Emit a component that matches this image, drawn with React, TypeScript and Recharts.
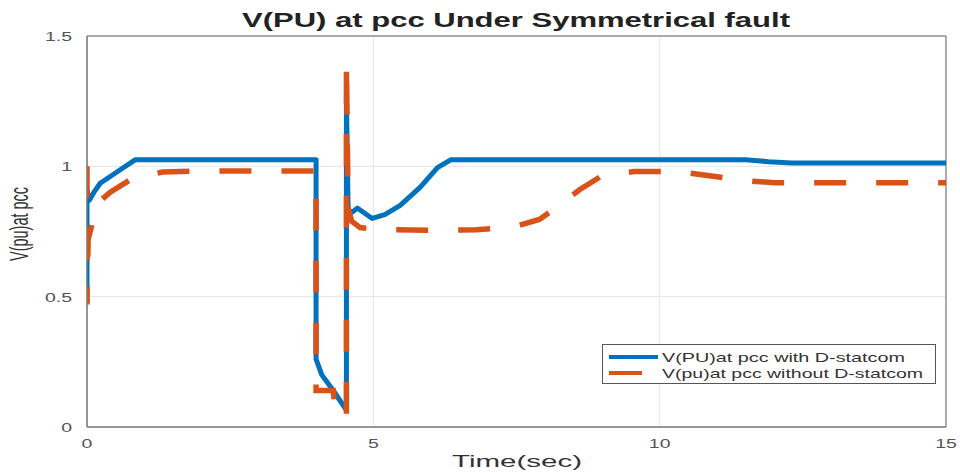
import React from 'react';
import { LineChart, Line, XAxis, YAxis, CartesianGrid, Legend, ReferenceArea, Label } from 'recharts';

const titleText = 'V(PU) at pcc Under Symmetrical fault';
const xLabelText = 'Time(sec)';
const yLabelText = 'V(pu)at pcc';
const seriesNames = ['V(PU)at pcc with D-statcom', 'V(pu)at pcc without D-statcom'];
const seriesColors = ['#0072BD', '#D95319'];

const xTicks = [0, 5, 10, 15];
const yTicks = [0, 0.5, 1, 1.5];

// Series 1: with D-statcom
const withTime = [0, 0, 0.04, 0.12, 0.23, 0.4, 0.6, 0.84, 2, 4.0, 4.0, 4.1, 4.3, 4.53, 4.53, 4.56, 4.64, 4.72, 4.98, 5.2, 5.47, 5.82, 6.12, 6.35, 9, 11.5, 11.9, 12.3, 15];
const withV = [0.48, 0.91, 0.87, 0.9, 0.935, 0.96, 0.99, 1.025, 1.025, 1.025, 0.26, 0.2, 0.14, 0.065, 1.26, 0.83, 0.825, 0.84, 0.8, 0.815, 0.85, 0.92, 0.995, 1.025, 1.025, 1.025, 1.018, 1.013, 1.013];

// Series 2: without D-statcom
const withoutTime = [0, 0, 0.02, 0.08, 0.14, 0.4, 0.8, 1.32, 2, 4.0, 4.0, 4.3, 4.34, 4.53, 4.53, 4.56, 4.62, 4.77, 5.1, 6.0, 6.8, 7.4, 7.9, 8.27, 8.6, 9.0, 9.55, 10.3, 11.0, 11.5, 12.0, 15];
const withoutV = [1.0, 0.47, 0.72, 0.77, 0.85, 0.9, 0.955, 0.978, 0.982, 0.982, 0.14, 0.14, 0.045, 0.04, 1.4, 0.84, 0.79, 0.765, 0.757, 0.755, 0.757, 0.765, 0.796, 0.854, 0.91, 0.965, 0.98, 0.98, 0.96, 0.945, 0.937, 0.937];

const withData = withTime.map((t, i) => ({ t, v: withV[i] }));
const withoutData = withoutTime.map((t, i) => ({ t, v: withoutV[i] }));

const FONT = '"Liberation Sans", Arial, Helvetica, sans-serif';
const SX = 1.5;

const XTick = (props: any) => {
  const { x, y, payload } = props;
  return (
    <text
      transform={`translate(${x},${y + 13}) scale(${SX},1)`}
      textAnchor="middle"
      fontFamily={FONT}
      fontSize={13}
      fill="#555"
    >
      {payload.value}
    </text>
  );
};

const YTick = (props: any) => {
  const { y, payload } = props;
  return (
    <text
      transform={`translate(72,${y + 5}) scale(${SX},1)`}
      textAnchor="end"
      fontFamily={FONT}
      fontSize={13}
      fill="#555"
    >
      {payload.value}
    </text>
  );
};

const renderXLabel = () => {
  return (
    <text
      x={517}
      y={467}
      textAnchor="middle"
      fontFamily={FONT}
      fontSize={17}
      fill="#333"
      textLength={130}
      lengthAdjust="spacingAndGlyphs"
    >
      {xLabelText}
    </text>
  );
};

const renderYLabel = () => {
  return (
    <text
      transform={`translate(28,224) scale(1.7,1) rotate(-90)`}
      textAnchor="middle"
      fontFamily={FONT}
      fontSize={15}
      fill="#333"
      textLength={74}
      lengthAdjust="spacingAndGlyphs"
    >
      {yLabelText}
    </text>
  );
};

const renderLegend = () => {
  return (
    <svg width={334} height={40} style={{ display: 'block' }}>
      <rect x={0.5} y={0.5} width={333} height={39} fill="#fff" stroke="#555" strokeWidth={1} />
      <line x1={7} x2={56} y1={13} y2={13} stroke={seriesColors[0]} strokeWidth={4} />
      <line x1={7} x2={40} y1={29} y2={29} stroke={seriesColors[1]} strokeWidth={4} />
      <text x={60} y={18} fontFamily={FONT} fontSize={13} fill="#333" textLength={243} lengthAdjust="spacingAndGlyphs">
        {seriesNames[0]}
      </text>
      <text x={60} y={34} fontFamily={FONT} fontSize={13} fill="#333" textLength={261} lengthAdjust="spacingAndGlyphs">
        {seriesNames[1]}
      </text>
    </svg>
  );
};

export default function App() {
  return (
    <div style={{ position: 'absolute', left: 0, top: 0, width: 960, height: 473, background: '#fff' }}>
      <LineChart
        width={960}
        height={473}
        margin={{ top: 36, right: 14, bottom: 0, left: 0 }}
      >
        <CartesianGrid stroke="#e4e4e4" strokeWidth={1} />
        <XAxis
          dataKey="t"
          type="number"
          domain={[0, 15]}
          ticks={xTicks}
          allowDataOverflow
          height={46}
          stroke="#808080"
          tickLine={false}
          tick={<XTick />}
        >
          <Label content={renderXLabel} />
        </XAxis>
        <YAxis
          type="number"
          domain={[0, 1.5]}
          ticks={yTicks}
          allowDataOverflow
          width={87}
          stroke="#808080"
          tickLine={false}
          tick={<YTick />}
        >
          <Label content={renderYLabel} />
        </YAxis>
        <ReferenceArea x1={0} x2={15} y1={0} y2={1.5} fill="none" fillOpacity={0} stroke="#666" strokeWidth={1} ifOverflow="visible" />
        <Line
          data={withData}
          dataKey="v"
          name={seriesNames[0]}
          type="linear"
          stroke={seriesColors[0]}
          strokeWidth={5}
          strokeLinejoin="round"
          dot={false}
          activeDot={false}
          isAnimationActive={false}
        />
        <Line
          data={withoutData}
          dataKey="v"
          name={seriesNames[1]}
          type="linear"
          stroke={seriesColors[1]}
          strokeWidth={5.5}
          strokeDasharray="32 30"
          dot={false}
          activeDot={false}
          isAnimationActive={false}
        />
        <Legend
          layout="vertical"
          align="center"
          verticalAlign="middle"
          content={renderLegend}
          wrapperStyle={{ position: 'absolute', left: 602, top: 344, width: 334, height: 40 }}
        />
      </LineChart>
      <svg width={960} height={36} style={{ position: 'absolute', left: 0, top: 0, pointerEvents: 'none' }}>
        <text
          x={516}
          y={27}
          textAnchor="middle"
          fontFamily={FONT}
          fontWeight="bold"
          fontSize={20}
          fill="#222"
          textLength={548}
          lengthAdjust="spacingAndGlyphs"
        >
          {titleText}
        </text>
      </svg>
    </div>
  );
}
